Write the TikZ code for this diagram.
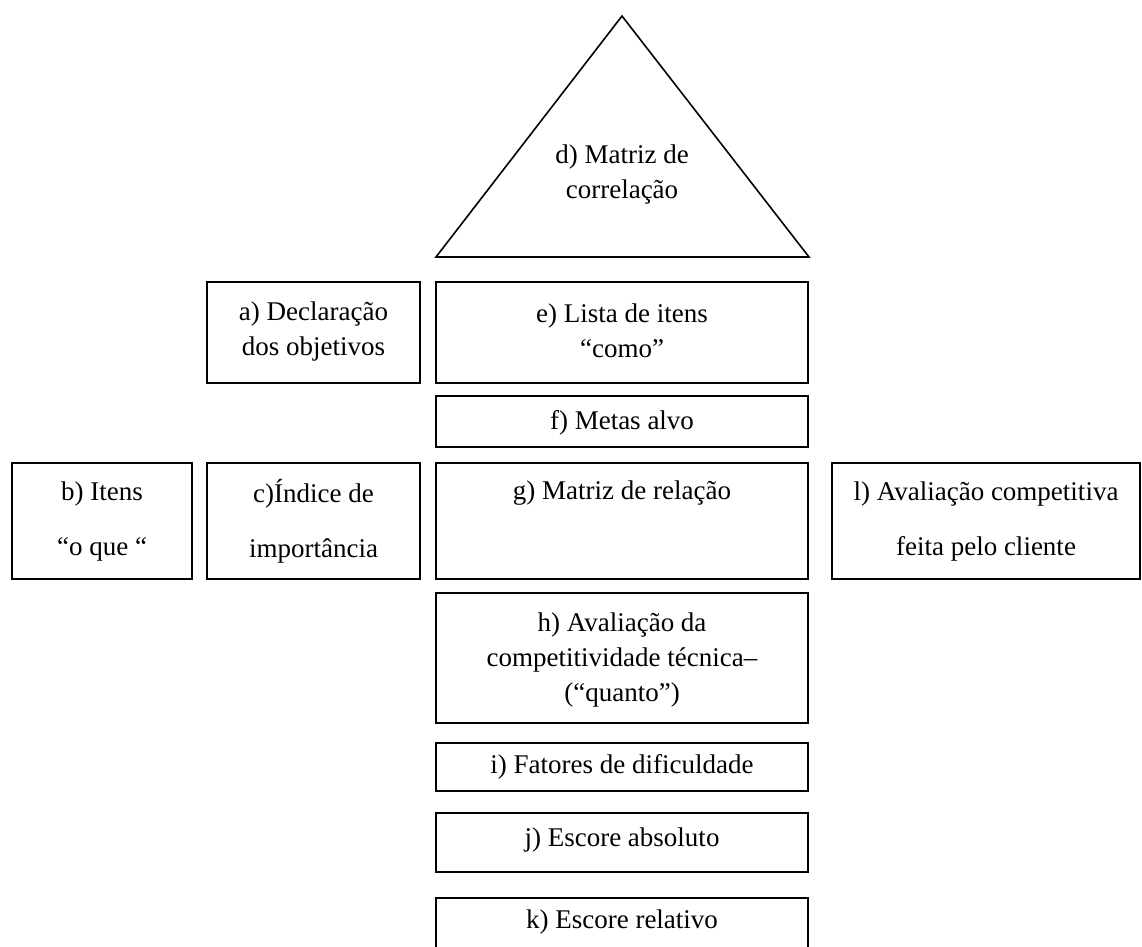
\documentclass[tikz,border=0pt]{standalone}
\usepackage{fontspec}
\setmainfont{Liberation Serif}
\usepackage{tikz}

\tikzset{
  box/.style={draw, line width=1.6pt, inner sep=0pt},
  lbl/.style={inner sep=0.75pt, align=center, font=\fontsize{27}{35}\selectfont},
}

\begin{document}
\begin{tikzpicture}[x=1pt,y=1pt,yscale=-1,xscale=1]
\useasboundingbox (0,0) rectangle (1142,946);

% Triangle
\coordinate (apex) at (622,16);
\coordinate (baseL) at (436,257);
\coordinate (baseR) at (809,257);
\draw [line width=1.6pt] (baseL) -- (apex) -- (baseR) -- cycle;

% Boxes
\node [box, minimum width=213, minimum height=101] (boxA) at (313.5,332.5) {};
\node [box, minimum width=372, minimum height=101] (boxE) at (622,332.5) {};
\node [box, minimum width=372, minimum height=51] (boxF) at (622,421.5) {};
\node [box, minimum width=180, minimum height=116] (boxB) at (102,521) {};
\node [box, minimum width=213, minimum height=116] (boxC) at (313.5,521) {};
\node [box, minimum width=372, minimum height=116] (boxG) at (622,521) {};
\node [box, minimum width=308, minimum height=116] (boxL) at (986,521) {};
\node [box, minimum width=372, minimum height=130] (boxH) at (622,658) {};
\node [box, minimum width=372, minimum height=48] (boxI) at (622,767) {};
\node [box, minimum width=372, minimum height=59] (boxJ) at (622,842.5) {};
\node [box, minimum width=372, minimum height=62] (boxK) at (622,929) {};

% Text Node
\node [lbl] (txtD) at (622,174) {d) Matriz de\\correlação};
% Text Node
\node [lbl] (txtA) at (313.5,331) {a) Declaração\\dos objetivos};
% Text Node
\node [lbl] (txtE) at (622,331) {e) Lista de itens\\“como”};
% Text Node
\node [lbl] (txtF) at (622,423) {f) Metas alvo};
% Text Node
\node [lbl] (txtB) at (102,521) {b) Itens\\[20pt]“o que “};
% Text Node
\node [lbl] (txtC) at (313.5,521) {c)Índice de\\[20pt]importância};
% Text Node
\node [lbl] (txtG) at (622,493) {g) Matriz de relação};
% Text Node
\node [lbl] (txtL) at (986,521) {l) Avaliação competitiva\\[20pt]feita pelo cliente};
% Text Node
\node [lbl] (txtH) at (622,660) {h) Avaliação da\\competitividade técnica–\\(“quanto”)};
% Text Node
\node [lbl] (txtI) at (622,767) {i) Fatores de dificuldade};
% Text Node
\node [lbl] (txtJ) at (622,840) {j) Escore absoluto};
% Text Node
\node [lbl] (txtK) at (622,922) {k) Escore relativo};

\end{tikzpicture}
\end{document}
